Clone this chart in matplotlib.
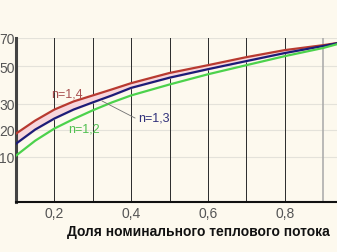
import numpy as np
import matplotlib.pyplot as plt

# Fraction of nominal heat flow
x = [0.1, 0.15, 0.2, 0.25, 0.3, 0.35, 0.4, 0.5, 0.6, 0.7, 0.8, 0.9, 0.95]
y_14 = [18.5, 23.5, 27.8, 31.3, 34.5, 37.7, 41.0, 46.4, 50.7, 56.4, 61.4, 64.9, 67.0]
y_13 = [14.8, 20.0, 24.3, 27.8, 30.8, 34.5, 38.5, 43.9, 48.4, 53.6, 59.3, 64.3, 67.0]
y_12 = [10.4, 15.9, 20.4, 24.1, 27.5, 30.8, 34.5, 40.3, 45.7, 50.7, 57.1, 62.9, 66.6]

# irregular y axis of the original chart
y_ticks = [10, 20, 30, 50, 70]
y_tick_labels = ['10', '20', '30', '50', '70']
scale_vals = [0, 10, 20, 30, 50, 70]
scale_pos = [0, 45, 72, 97.5, 135, 163]

x_ticks = [0.2, 0.4, 0.6, 0.8]
x_tick_labels = ['0,2', '0,4', '0,6', '0,8']

bg = '#fdf9ee'
plt.rcParams['font.family'] = ['Liberation Sans', 'DejaVu Sans']

fig = plt.figure(figsize=(3.37, 2.53), dpi=100, facecolor=bg)
ax = fig.add_axes([16 / 337, 50 / 253, 1 - 16 / 337 + 0.01, 164 / 253])
ax.set_facecolor(bg)

fwd = lambda v: np.interp(v, scale_vals, scale_pos)
inv = lambda p: np.interp(p, scale_pos, scale_vals)
ax.set_yscale('function', functions=(fwd, inv))
ax.set_ylim(0, 70.5)
ax.set_xlim(0.1, 0.945)

# grid
for v in y_ticks:
    ax.axhline(v, color='#e4e2da', linewidth=0.8, zorder=1)
for gx in [0.2, 0.3, 0.4, 0.5, 0.6, 0.7, 0.8]:
    ax.axvline(gx, color='#2a2a2a', linewidth=0.7, zorder=1)
ax.axvline(0.9, color='#a8a8a8', linewidth=1.1, zorder=1)

ax.fill_between(x, y_13, y_14, color='#f8d6dc', zorder=2)
ax.plot(x, y_14, color='#b83a30', linewidth=1.6, zorder=3)
ax.plot(x, y_13, color='#1c1c78', linewidth=1.6, zorder=3)
ax.plot(x, y_12, color='#4cd24c', linewidth=1.6, zorder=3)

ax.text(0.234, 35.5, 'n=1,4', color='#a85050', fontsize=9, ha='center', va='center', zorder=4)
ax.text(0.278, 20.4, 'n=1,2', color='#50c050', fontsize=9, ha='center', va='center', zorder=4)
ax.text(0.458, 24.7, 'n=1,3', color='#30307a', fontsize=9, ha='center', va='center', zorder=4)
ax.plot([0.3245, 0.41], [31.5, 24.5], color='#707070', linewidth=0.6, zorder=4)

ax.set_yticks(y_ticks)
ax.set_yticklabels(y_tick_labels)
ax.set_xticks(x_ticks)
ax.set_xticklabels(x_tick_labels)
ax.tick_params(axis='both', length=0, labelsize=10, labelcolor='#555555')
ax.tick_params(axis='y', pad=1)
ax.tick_params(axis='x', pad=3)
ax.minorticks_off()

for s in ['top', 'right']:
    ax.spines[s].set_visible(False)
ax.spines['left'].set_color('#444444')
ax.spines['left'].set_linewidth(2.2)
ax.spines['bottom'].set_color('#111111')
ax.spines['bottom'].set_linewidth(1.5)

fig.text(67 / 337, 1 - 232 / 253, 'Доля номинального теплового потока',
         fontsize=10, fontweight='bold', color='#111111', ha='left', va='center')

plt.savefig('out.png', dpi=100, facecolor=bg)
